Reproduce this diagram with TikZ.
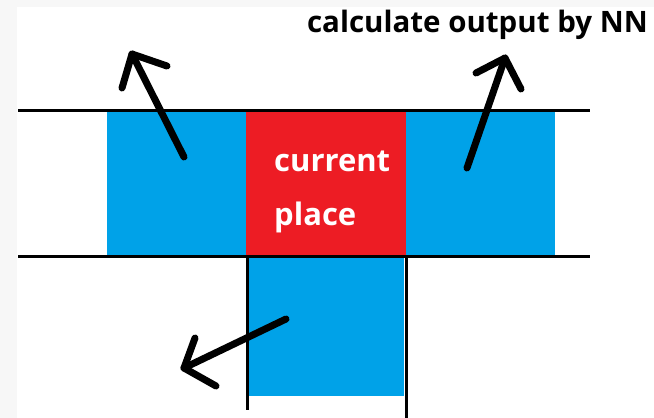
\documentclass[tikz,border=0pt]{standalone}
\usepackage{fontspec}
\setmainfont{Open Sans}
\definecolor{pblue}{HTML}{00A2E8}
\definecolor{pred}{HTML}{ED1C24}
\definecolor{edge}{HTML}{F7F7F7}
\begin{document}
\begin{tikzpicture}[x=1pt,y=-1pt,
  cell/.style={inner sep=0pt, outer sep=0pt, draw=none},
  rail/.style={line width=3pt},
  post/.style={line width=3pt},
  lbl/.style={font=\bfseries\fontsize{31}{36}\selectfont, text=white, anchor=base west, inner sep=0pt},
  pen/.style={line width=7pt, line cap=round, line join=round}]
\useasboundingbox (0,0) rectangle (654,418);
\fill[white] (0,0) rectangle (654,418);
\fill[edge] (0,0) rectangle (17,418);
\fill[edge] (17,0) rectangle (654,7);
% cells
\node[cell, fill=pblue, minimum width=139pt, minimum height=145pt, anchor=north west] (bl) at (107,110) {};
\node[cell, fill=pred, minimum width=160pt, minimum height=145pt, anchor=north west] (cp) at (246,110) {};
\node[cell, fill=pblue, minimum width=149pt, minimum height=145pt, anchor=north west] (br) at (406,110) {};
\node[cell, fill=pblue, minimum width=155pt, minimum height=140pt, anchor=north west] (bb) at (249,256) {};
% rails
\coordinate (t1) at (18,110); \coordinate (t2) at (590,110);
\coordinate (b1) at (18,256); \coordinate (b2) at (590,256);
\coordinate (v1a) at (247,256); \coordinate (v1b) at (247,410);
\coordinate (v2a) at (406,256); \coordinate (v2b) at (406,418);
\draw[rail] (t1) -- (t2);
\draw[rail] (b1) -- (b2);
\draw[post] (v1a) -- (v1b);
\draw[post] (v2a) -- (v2b);
% text
\node[lbl] (cur) at (274,171) {current};
\node[lbl] (pl) at (274,225) {place};
\node[font=\bfseries\fontsize{29.5}{34}\selectfont, anchor=base east, inner sep=0pt] (nn) at (648,32) {calculate output by NN};
% arrows
\coordinate (a1s) at (184,157); \coordinate (a1t) at (132,54);
\coordinate (a1l) at (122,88); \coordinate (a1r) at (167,66);
\draw[pen] (a1s) -- (a1t);
\draw[pen] (a1l) -- (a1t) -- (a1r);
\coordinate (a2s) at (467,168); \coordinate (a2t) at (505,58);
\coordinate (a2l) at (476,73); \coordinate (a2r) at (521,89);
\draw[pen] (a2s) -- (a2t);
\draw[pen] (a2l) -- (a2t) -- (a2r);
\coordinate (a3s) at (286,319); \coordinate (a3t) at (184,368);
\coordinate (a3l) at (195,338); \coordinate (a3r) at (216,386);
\draw[pen] (a3s) -- (a3t);
\draw[pen] (a3l) -- (a3t) -- (a3r);
\end{tikzpicture}
\end{document}
